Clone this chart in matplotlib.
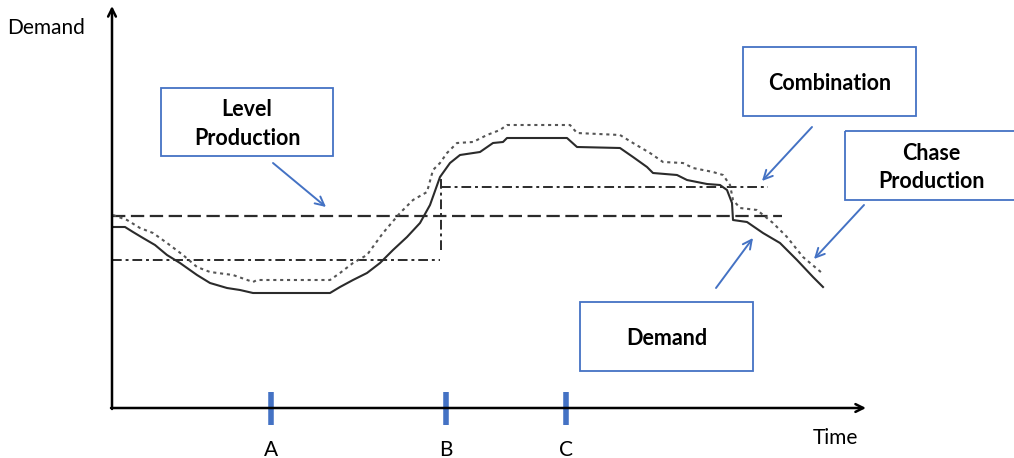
"""Production strategies diagram: demand vs level / chase / combination."""

import matplotlib
matplotlib.use("Agg")
import matplotlib.pyplot as plt
from matplotlib.patches import Rectangle

plt.rcParams["font.family"] = ["Lato", "DejaVu Sans"]

BLUE = "#4472C4"
INK = "#2b2b2b"

# ---------------------------------------------------------------------------
# Data (canvas units: x = time, y = demand, y grows downward)
# ---------------------------------------------------------------------------
demand_t = [113, 125, 133, 143, 155, 167, 180, 197, 210, 227, 240, 253, 330,
            340, 353, 367, 380, 393, 407, 420, 430, 440, 450, 460, 480, 493,
            503, 507, 567, 577, 620, 633, 647, 653, 677, 687, 707, 720, 727,
            732, 733, 747, 763, 780, 797, 813, 823]
demand_v = [227, 227, 232, 238, 245, 255, 263, 275, 283, 288, 290, 293, 293,
            287, 280, 273, 263, 250, 237, 223, 205, 177, 163, 155, 152, 143,
            142, 138, 138, 147, 148, 157, 167, 173, 175, 180, 184, 185, 190,
            203, 220, 222, 233, 243, 260, 277, 287]

chase_t = [113, 127, 140, 153, 167, 183, 197, 210, 233, 253, 257, 330, 340,
           353, 367, 383, 400, 413, 427, 433, 440, 447, 457, 473, 487, 500,
           507, 570, 577, 620, 633, 650, 663, 683, 693, 713, 723, 730, 733,
           740, 757, 773, 787, 803, 822]
chase_v = [215, 220, 228, 233, 243, 255, 267, 272, 275, 282, 280, 280, 273,
           263, 255, 233, 213, 200, 192, 170, 163, 153, 143, 142, 135, 130,
           125, 125, 133, 135, 143, 153, 162, 163, 168, 172, 175, 185, 200,
           208, 210, 223, 237, 257, 273]

level_t = [112, 782]
level_v = [216, 216]

combo_low_t = [112, 440]
combo_low_v = [260, 260]
combo_jump_t = [441, 441]
combo_jump_v = [250, 175]
combo_high_t = [441, 768]
combo_high_v = [187, 187]

tick_t = [271, 446, 566]
tick_labels = ["A", "B", "C"]

# label boxes: (x0, y0, x1, y1), text, arrow start, arrow tip
boxes = [
    ((161, 88, 333, 156), "Level\nProduction", (273, 163), (326, 207)),
    ((743, 47, 916, 116), "Combination", (812, 127), (762, 181)),
    ((845, 131, 1030, 200), "Chase\nProduction", (864, 205), (814, 259)),
    ((580, 302, 753, 371), "Demand", (716, 288), (753, 238)),
]
box_text_x = [247, 830, 931, 667]


def main() -> None:
    fig = plt.figure(figsize=(10.14, 4.58), dpi=100)
    ax = fig.add_axes([0, 0, 1, 1])
    ax.set_xlim(0, 1014)
    ax.set_ylim(458, 0)
    ax.axis("off")

    # axes with arrowheads
    ax.annotate("", xy=(112, 6), xytext=(112, 409),
                arrowprops=dict(arrowstyle="->", color="black", lw=1.8,
                                mutation_scale=14, shrinkA=0, shrinkB=0))
    ax.annotate("", xy=(866, 408), xytext=(111, 408),
                arrowprops=dict(arrowstyle="->", color="black", lw=1.8,
                                mutation_scale=14, shrinkA=0, shrinkB=0))
    ax.text(7, 28, "Demand", fontsize=15, va="center", ha="left")
    ax.text(858, 438, "Time", fontsize=15, va="center", ha="right")

    # tick marks
    for t, lab in zip(tick_t, tick_labels):
        ax.plot([t, t], [392, 425], color=BLUE, lw=4, solid_capstyle="butt")
        ax.text(t, 450, lab, fontsize=15, ha="center", va="center")

    # curves
    ax.plot(level_t, level_v, color=INK, lw=1.6, dashes=(6, 2.5))
    ax.plot(combo_low_t, combo_low_v, color=INK, lw=1.4, dashes=(5, 2, 1.5, 2))
    ax.plot(combo_jump_t, combo_jump_v, color=INK, lw=1.4, dashes=(5, 2, 1.5, 2))
    ax.plot(combo_high_t, combo_high_v, color=INK, lw=1.4, dashes=(5, 2, 1.5, 2))
    ax.plot(chase_t, chase_v, color="#555555", lw=1.5, dashes=(1.5, 1.8))
    ax.plot(demand_t, demand_v, color=INK, lw=1.5)

    # label boxes and arrows
    for (x0, y0, x1, y1), text, start, tip in boxes:
        ax.add_patch(Rectangle((x0, y0), x1 - x0, y1 - y0, fill=False,
                               edgecolor=BLUE, lw=1.3, clip_on=False))
    for ((x0, y0, x1, y1), text, start, tip), tx in zip(boxes, box_text_x):
        ax.text(tx, (y0 + y1) / 2 + 2, text, fontsize=15.5, fontweight="bold",
                ha="center", va="center", linespacing=1.45)
        ax.annotate("", xy=tip, xytext=start,
                    arrowprops=dict(arrowstyle="->", color=BLUE, lw=1.4,
                                    mutation_scale=16, shrinkA=0, shrinkB=0))

    fig.savefig("out.png", dpi=100)
    plt.close(fig)


if __name__ == "__main__":
    main()
